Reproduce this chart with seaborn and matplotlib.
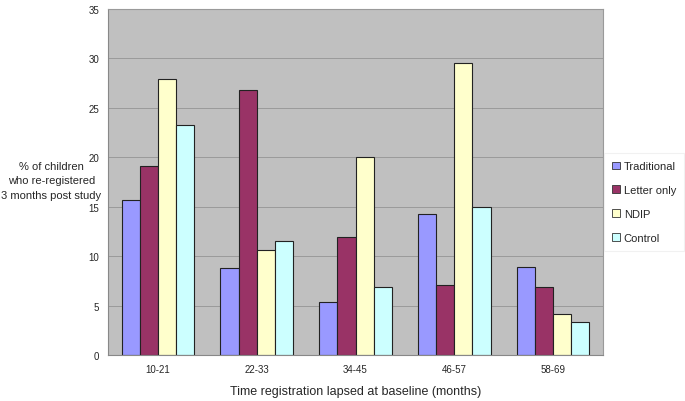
import pandas as pd
import matplotlib
matplotlib.use("Agg")
import matplotlib.pyplot as plt
import seaborn as sns

# ================================
# DATA
# ================================

groups = ["10-21", "22-33", "34-45", "46-57", "58-69"]
series = ["Traditional", "Letter only", "NDIP", "Control"]
traditional = [15.7, 8.8, 5.4, 14.3, 8.9]
letter_only = [19.1, 26.8, 12.0, 7.1, 6.9]
ndip = [27.9, 10.6, 20.0, 29.5, 4.2]
control = [23.3, 11.5, 6.9, 15.0, 3.4]

colors = ["#9999FF", "#993366", "#FFFFCC", "#CCFFFF"]

df = pd.DataFrame({
    "group": groups * 4,
    "series": [s for s in series for _ in groups],
    "value": traditional + letter_only + ndip + control,
})

# ================================
# PLOT
# ================================

sns.set_style("white")
plt.rcParams["font.family"] = ["Liberation Sans", "DejaVu Sans"]

fig = plt.figure(figsize=(6.85, 4.02), dpi=100)
ax = fig.add_axes([0.158, 0.114, 0.722, 0.861])
ax.set_facecolor("#C0C0C0")

sns.barplot(
    data=df, x="group", y="value", hue="series",
    order=groups, hue_order=series, palette=colors,
    width=0.73, edgecolor="#222222", linewidth=0.8,
    saturation=1, ax=ax,
)

ax.set_ylim(0, 35)
ax.set_yticks(range(0, 36, 5))
ax.yaxis.grid(True, color="#9a9a9a", linewidth=0.7)
ax.set_axisbelow(True)
for s in ["top", "right"]:
    ax.spines[s].set_color("#9a9a9a")
for s in ["left", "bottom"]:
    ax.spines[s].set_color("#888888")
ax.tick_params(axis="both", labelsize=7, length=3, color="#888888")

ax.set_xlabel("Time registration lapsed at baseline (months)", fontsize=9, labelpad=8)
ax.set_ylabel("% of children\nwho re-registered\n3 months post study",
              fontsize=8, rotation=0, ha="center", va="center",
              labelpad=0, linespacing=1.6)
ax.yaxis.set_label_coords(-0.115, 0.505)

leg = ax.legend(
    loc="upper left", bbox_to_anchor=(1.002, 0.584), frameon=True,
    fontsize=8, handlelength=0.7, handleheight=0.7,
    labelspacing=1.25, borderpad=0.75, handletextpad=0.35,
    borderaxespad=0, fancybox=False,
)
leg.get_frame().set_edgecolor("#eeeeee")
leg.get_frame().set_linewidth(0.8)
for h in leg.legend_handles:
    h.set_edgecolor("#333333")
    h.set_linewidth(0.6)

fig.savefig("out.png", dpi=100)
